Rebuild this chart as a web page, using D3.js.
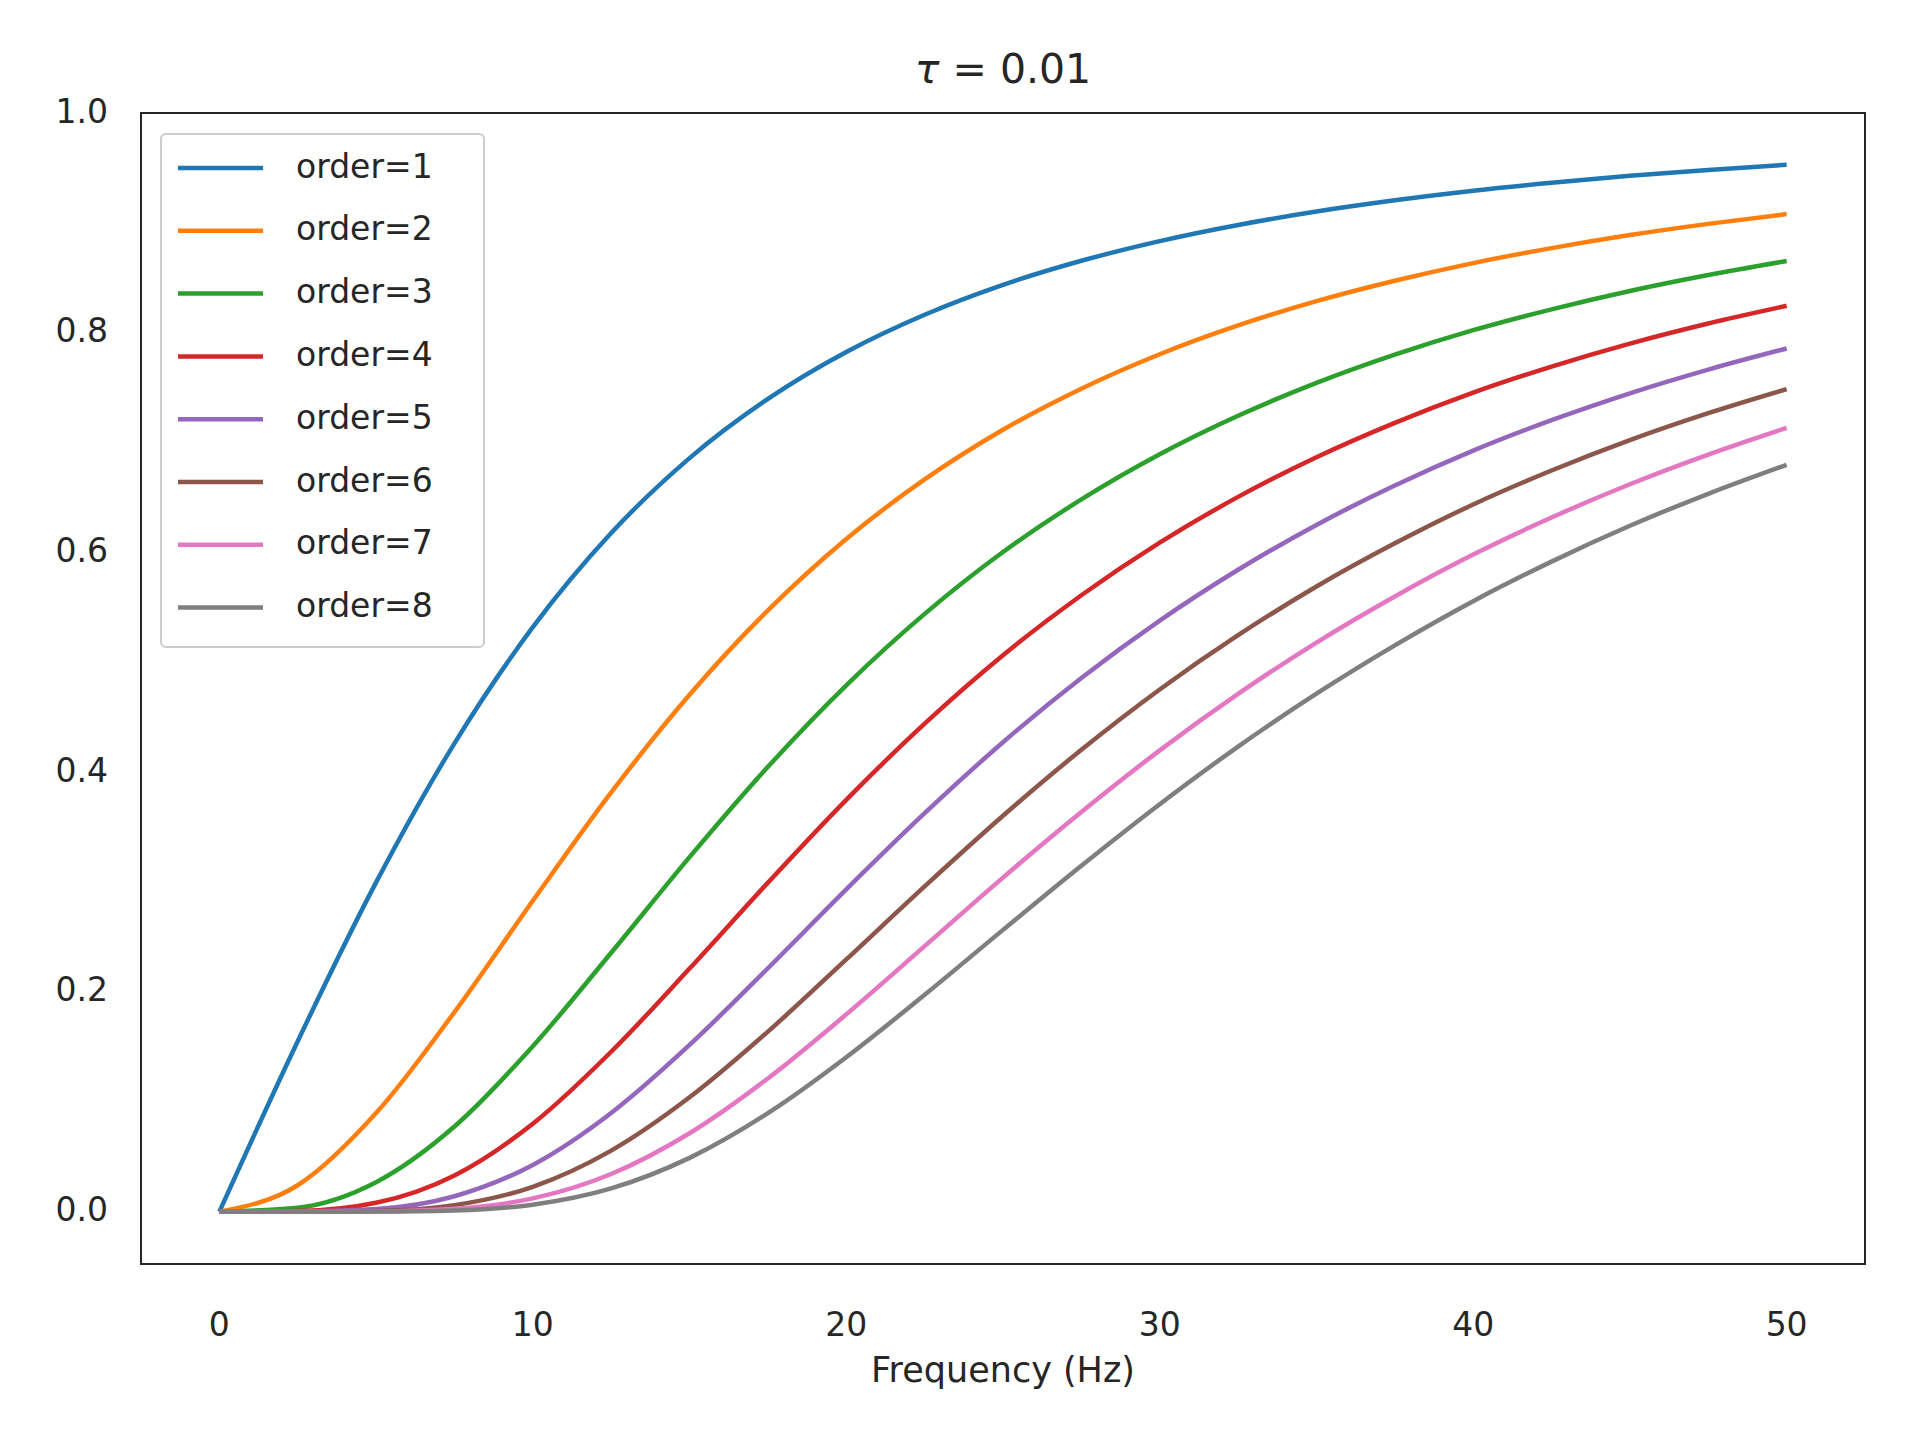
<!DOCTYPE html>
<html lang="en">
  <head>
    <meta charset="UTF-8" />
    <title>tau = 0.01</title>
    <style>
      body { margin: 0; background: #fff; }
      text { font-family: "DejaVu Sans", sans-serif; fill: #262626; }
    </style>
  </head>
  <body>
    <script src="https://d3js.org/d3.v7.min.js"></script>
    <script>
      const width = 1920
      const height = 1440

      const freq = [0, 2.5, 5, 7.5, 10, 12.5, 15, 17.5, 20, 22.5, 25, 27.5, 30, 32.5, 35, 37.5, 40, 42.5, 45, 47.5, 50]
      const order1 = [0, .1552, .2997, .4263, .5320, .6177, .6859, .7398, .7825, .8164, .8436, .8655, .8834, .8981, .9103, .9205, .9292, .9365, .9428, .9482, .9529]
      const order2 = [0, .0241, .0898, .1817, .2830, .3816, .4705, .5473, .6123, .6665, .7117, .7491, .7804, .8066, .8287, .8473, .8634, .8770, .8889, .8991, .9080]
      const order3 = [0, .0037, .0269, .0775, .1506, .2357, .3227, .4049, .4791, .5441, .6004, .6483, .6894, .7244, .7543, .7800, .8023, .8213, .8380, .8525, .8653]
      const order4 = [0, .0006, .0081, .0330, .0801, .1456, .2213, .2995, .3749, .4442, .5065, .5611, .6090, .6506, .6867, .7180, .7455, .7692, .7901, .8084, .8245]
      const order5 = [0, .0001, .0024, .0141, .0426, .0899, .1518, .2216, .2934, .3627, .4273, .4857, .5380, .5843, .6251, .6609, .6927, .7204, .7449, .7665, .7857]
      const order6 = [0, 0, .0007, .0060, .0227, .0556, .1041, .1639, .2296, .2961, .3604, .4204, .4753, .5247, .5690, .6083, .6437, .6746, .7023, .7268, .7487]
      const order7 = [0, 0, .0002, .0026, .0121, .0343, .0714, .1213, .1796, .2417, .3041, .3638, .4199, .4713, .5180, .5600, .5981, .6318, .6621, .6891, .7134]
      const order8 = [0, 0, .0001, .0011, .0064, .0212, .0490, .0897, .1406, .1974, .2565, .3149, .3709, .4233, .4715, .5155, .5557, .5917, .6243, .6534, .6798]
      const series = [order1, order2, order3, order4, order5, order6, order7, order8]
      const labels = ["order=1", "order=2", "order=3", "order=4", "order=5", "order=6", "order=7", "order=8"]
      const colors = ["#1f77b4", "#ff7f0e", "#2ca02c", "#d62728", "#9467bd", "#8c564b", "#e377c2", "#7f7f7f"]
      const xTicks = [0, 10, 20, 30, 40, 50]
      const yTicks = [0, 0.2, 0.4, 0.6, 0.8, 1.0]

      const mLeft = 141, mRight = 1865, mTop = 113, mBottom = 1264

      const svg = d3.select("body").append("svg")
        .attr("width", width)
        .attr("height", height)

      const x = d3.scaleLinear().domain([-2.5, 52.5]).range([mLeft, mRight])
      const y = d3.scaleLinear().domain([-0.0476, 1.0]).range([mBottom, mTop])

      const line = d3.line()
        .x((d, i) => x(freq[i]))
        .y(d => y(d))
        .curve(d3.curveMonotoneX)

      series.forEach((s, k) => {
        svg.append("path")
          .attr("d", line(s))
          .attr("fill", "none")
          .attr("stroke", colors[k])
          .attr("stroke-width", 4.5)
      })

      // frame
      svg.append("rect")
        .attr("x", mLeft).attr("y", mTop)
        .attr("width", mRight - mLeft).attr("height", mBottom - mTop)
        .attr("fill", "none").attr("stroke", "#262626").attr("stroke-width", 2)

      // tick labels only, no tick marks
      svg.append("g").selectAll("text").data(xTicks).enter().append("text")
        .attr("x", d => x(d)).attr("y", 1326)
        .attr("text-anchor", "middle").attr("dominant-baseline", "middle")
        .attr("font-size", 33)
        .text(d => d)
      svg.append("g").selectAll("text").data(yTicks).enter().append("text")
        .attr("x", 108).attr("y", d => y(d))
        .attr("text-anchor", "end").attr("dominant-baseline", "middle")
        .attr("font-size", 33)
        .text(d => d.toFixed(1))

      svg.append("text")
        .attr("x", (mLeft + mRight) / 2).attr("y", 1372)
        .attr("text-anchor", "middle").attr("dominant-baseline", "middle")
        .attr("font-size", 35)
        .text("Frequency (Hz)")

      const title = svg.append("text")
        .attr("x", (mLeft + mRight) / 2).attr("y", 72)
        .attr("text-anchor", "middle").attr("dominant-baseline", "middle")
        .attr("font-size", 41)
      title.append("tspan").attr("font-style", "italic").text("τ")
      title.append("tspan").text(" = 0.01")

      // legend
      const lg = svg.append("g")
      lg.append("rect")
        .attr("x", 161).attr("y", 134).attr("width", 323).attr("height", 513)
        .attr("rx", 5).attr("fill", "#fff").attr("fill-opacity", 0.8)
        .attr("stroke", "#cccccc").attr("stroke-width", 2)
      labels.forEach((t, k) => {
        const yy = 168 + k * 62.8
        lg.append("line")
          .attr("x1", 178).attr("x2", 263).attr("y1", yy).attr("y2", yy)
          .attr("stroke", colors[k]).attr("stroke-width", 4.5)
        lg.append("text")
          .attr("x", 296).attr("y", yy)
          .attr("dominant-baseline", "middle")
          .attr("font-size", 33)
          .text(t)
      })
    </script>
  </body>
</html>
